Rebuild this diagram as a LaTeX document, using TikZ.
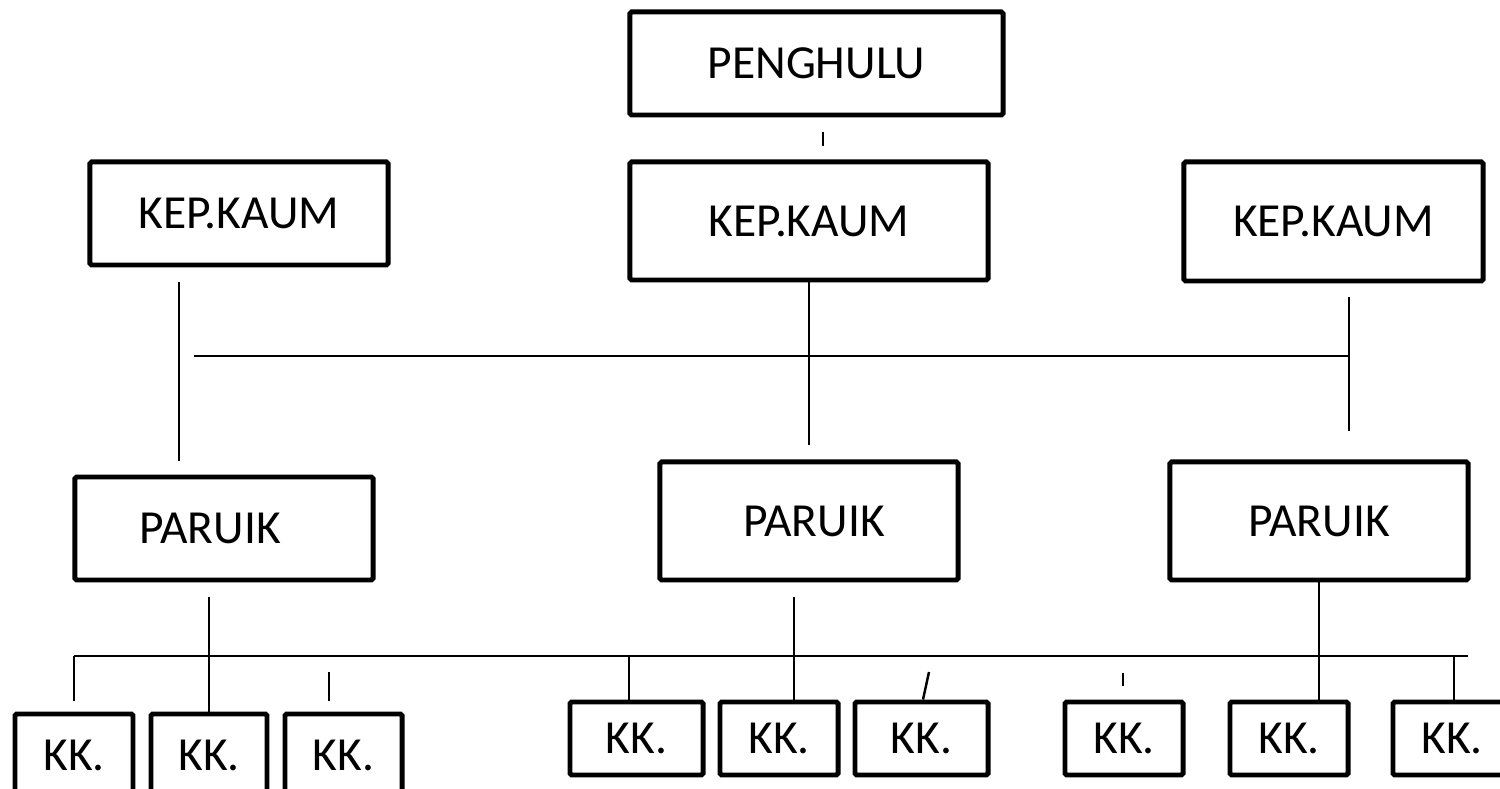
\documentclass[tikz,border=0pt]{standalone}
\usepackage{fontspec}
\setmainfont{Carlito}
\usetikzlibrary{calc}
\tikzset{
  box/.style={draw=black, line width=1.4pt, fill=white, inner sep=0pt, rounded corners=0.5pt, font=\fontsize{13.5}{15}\selectfont},
  lbl/.style={font=\fontsize{13.5}{15}\selectfont},
  conn/.style={draw=black, line width=0.7pt},
}
\begin{document}
\begin{tikzpicture}[x=0.01cm,y=-0.01cm]
\useasboundingbox (0,0) rectangle (1500,789);
\clip (0,0) rectangle (1500,789);
% top level
\node[box, minimum width=3.73cm, minimum height=1.03cm] (ph) at (816.5,63.5) {PENGHULU};
\node[box, minimum width=2.98cm, minimum height=1.03cm] (kl) at (239,213.5) {KEP.KAUM};
\node[box, minimum width=3.58cm, minimum height=1.18cm] (km) at (809,221) {KEP.KAUM};
\node[box, minimum width=2.99cm, minimum height=1.19cm] (kr) at (1333.5,221.5) {KEP.KAUM};
% paruik
\node[box, minimum width=2.98cm, minimum height=1.03cm, label={[lbl, xshift=-0.14cm]center:PARUIK}] (pl) at (224,528.5) {};
\node[box, minimum width=2.98cm, minimum height=1.18cm, label={[lbl, xshift=0.05cm]center:PARUIK}] (pm) at (809,521) {};
\node[box, minimum width=2.98cm, minimum height=1.18cm] (pr) at (1319,521) {PARUIK};
% KK boxes
\node[box, minimum width=1.18cm, minimum height=0.86cm, label={[lbl, yshift=0.015cm]center:KK.}] (k1) at (74,757) {};
\node[box, minimum width=1.16cm, minimum height=0.86cm, label={[lbl, yshift=0.015cm]center:KK.}] (k2) at (209,757) {};
\node[box, minimum width=1.17cm, minimum height=0.86cm, label={[lbl, yshift=0.015cm]center:KK.}] (k3) at (343.5,757) {};
\node[box, minimum width=1.33cm, minimum height=0.73cm] (k4) at (636.5,738.5) {KK.};
\node[box, minimum width=1.18cm, minimum height=0.73cm] (k5) at (779,738.5) {KK.};
\node[box, minimum width=1.33cm, minimum height=0.73cm] (k6) at (921.5,738.5) {KK.};
\node[box, minimum width=1.18cm, minimum height=0.73cm] (k7) at (1124,738.5) {KK.};
\node[box, minimum width=1.18cm, minimum height=0.73cm] (k8) at (1289,738.5) {KK.};
\node[box, minimum width=1.18cm, minimum height=0.73cm] (k9) at (1452,738.5) {KK.};
% free-end coordinates
\coordinate (t1a) at (823,132); \coordinate (t1b) at (823,146);
\coordinate (vla) at (179,282); \coordinate (vlb) at (179,461);
\coordinate (ha) at (194,356); \coordinate (hb) at (1349,356);
\coordinate (vmb) at (809,445);
\coordinate (vra) at (1349,297); \coordinate (vrb) at (1349,431);
\coordinate (pla) at (209,597);
\coordinate (pma) at (794,597);
\coordinate (ba) at (74,656); \coordinate (bb) at (1468,656);
\coordinate (t2a) at (329,672); \coordinate (t2b) at (329,701);
\coordinate (t3a) at (929,672);
\coordinate (t4a) at (1123,673); \coordinate (t4b) at (1123,686);
% connectors
\draw[conn] (t1a) -- (t1b);
\draw[conn] (vla) -- (vlb);
\draw[conn] (ha) -- (hb);
\draw[conn] (km.south) -- (vmb);
\draw[conn] (vra) -- (vrb);
\draw[conn] (pla) -- (pla |- k2.north);
\draw[conn] (pma) -- (pma |- k5.north);
\draw[conn] (pr.south) -- (pr.south |- k8.north);
\draw[conn] (ba) -- (bb);
\draw[conn] (ba) -- (74,701);
\draw[conn] (t2a) -- (t2b);
\draw[conn] (ba -| 629,0) -- (629,0 |- k4.north);
\draw[conn] (t3a) -- (923,0 |- k6.north);
\draw[conn] (t4a) -- (t4b);
\draw[conn] (ba -| 1454,0) -- (1454,0 |- k9.north);
\end{tikzpicture}
\end{document}
